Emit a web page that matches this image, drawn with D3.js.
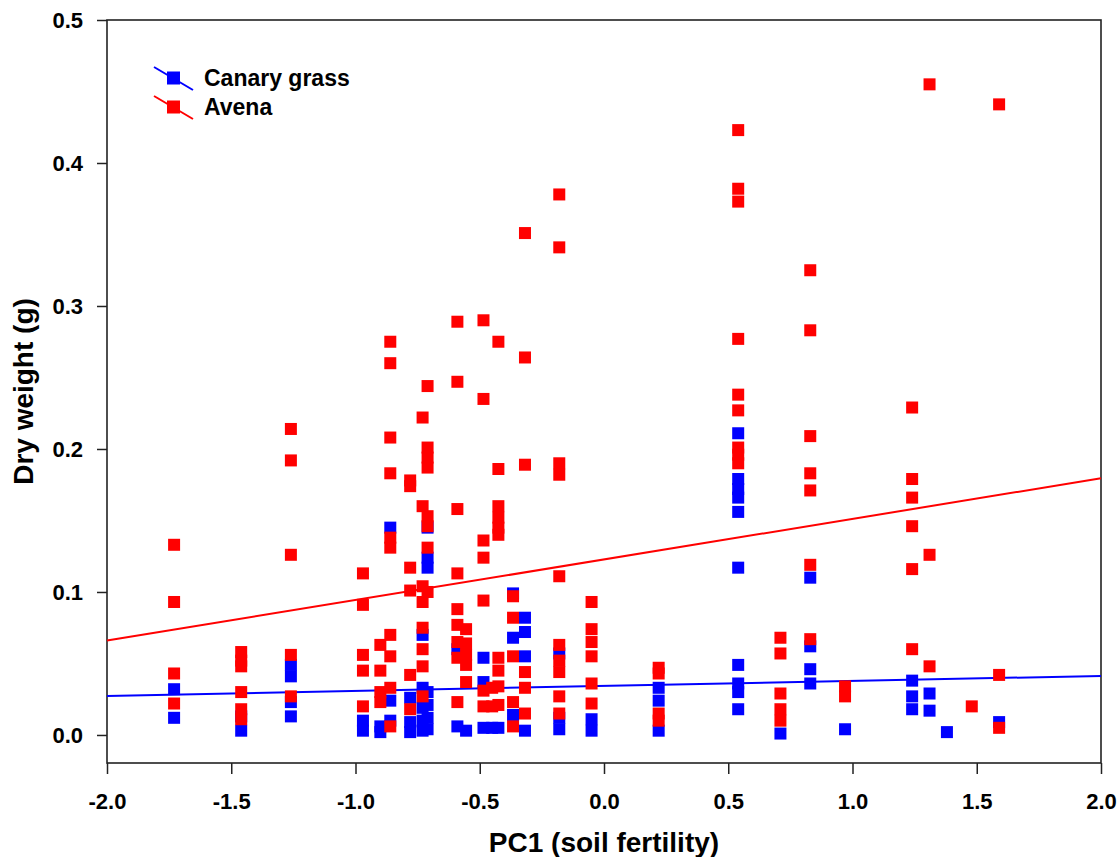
<!DOCTYPE html>
<html>
<head>
<meta charset="utf-8">
<script src="https://cdn.jsdelivr.net/npm/d3@7"></script>
<style>
  body { margin: 0; background: #fff; }
  svg text { font-family: "Liberation Sans", Arial, sans-serif; font-weight: bold; fill: #000; }
</style>
</head>
<body>
<div id="chart"></div>
<script>
// Canary grass dry weight (g) vs PC1 as [pc1, weight]
const canary = [
    [-1.73, 0.032], [-1.73, 0.012],
    [-1.46, 0.013], [-1.46, 0.003],
    [-1.26, 0.049], [-1.26, 0.041], [-1.26, 0.023], [-1.26, 0.013],
    [-0.97, 0.010], [-0.97, 0.003],
    [-0.90, 0.006], [-0.90, 0.002],
    [-0.86, 0.145], [-0.86, 0.024], [-0.86, 0.010],
    [-0.78, 0.026], [-0.78, 0.009], [-0.78, 0.002],
    [-0.73, 0.070], [-0.73, 0.033], [-0.73, 0.019], [-0.73, 0.010], [-0.73, 0.003],
    [-0.71, 0.145], [-0.71, 0.124], [-0.71, 0.117], [-0.71, 0.030], [-0.71, 0.021], [-0.71, 0.012], [-0.71, 0.004],
    [-0.59, 0.060], [-0.59, 0.006],
    [-0.555, 0.003],
    [-0.485, 0.054], [-0.485, 0.037], [-0.485, 0.005],
    [-0.45, 0.005], [-0.425, 0.005],
    [-0.366, 0.099], [-0.366, 0.068], [-0.366, 0.014],
    [-0.318, 0.082], [-0.318, 0.072], [-0.318, 0.055], [-0.318, 0.003],
    [-0.18, 0.057], [-0.18, 0.012], [-0.18, 0.004],
    [-0.05, 0.011], [-0.05, 0.003],
    [0.22, 0.033], [0.22, 0.024], [0.22, 0.003],
    [0.54, 0.211], [0.54, 0.179], [0.54, 0.172], [0.54, 0.166], [0.54, 0.156], [0.54, 0.117],
    [0.54, 0.049], [0.54, 0.036], [0.54, 0.030], [0.54, 0.018],
    [0.71, 0.001],
    [0.83, 0.110], [0.83, 0.062], [0.83, 0.046], [0.83, 0.036],
    [0.97, 0.004],
    [1.24, 0.038], [1.24, 0.027], [1.24, 0.018],
    [1.31, 0.029], [1.31, 0.017],
    [1.38, 0.002],
    [1.59, 0.009]
];

// Avena dry weight (g) vs PC1
const avena = [
    [-1.73, 0.133], [-1.73, 0.093], [-1.73, 0.043], [-1.73, 0.022],
    [-1.46, 0.058], [-1.46, 0.052], [-1.46, 0.048], [-1.46, 0.030], [-1.46, 0.018], [-1.46, 0.011],
    [-1.26, 0.214], [-1.26, 0.192], [-1.26, 0.126], [-1.26, 0.056], [-1.26, 0.027],
    [-0.97, 0.113], [-0.97, 0.091], [-0.97, 0.056], [-0.97, 0.045], [-0.97, 0.020],
    [-0.90, 0.063], [-0.90, 0.045], [-0.90, 0.030], [-0.90, 0.023],
    [-0.86, 0.275], [-0.86, 0.260], [-0.86, 0.208], [-0.86, 0.183], [-0.86, 0.138], [-0.86, 0.131],
    [-0.86, 0.070], [-0.86, 0.055], [-0.86, 0.033], [-0.86, 0.006],
    [-0.78, 0.178], [-0.78, 0.174], [-0.78, 0.117], [-0.78, 0.101], [-0.78, 0.042], [-0.78, 0.018],
    [-0.73, 0.222], [-0.73, 0.160], [-0.73, 0.104], [-0.73, 0.093], [-0.73, 0.075], [-0.73, 0.060],
    [-0.73, 0.048], [-0.73, 0.027],
    [-0.71, 0.244], [-0.71, 0.201], [-0.71, 0.194], [-0.71, 0.187], [-0.71, 0.153], [-0.71, 0.146],
    [-0.71, 0.131], [-0.71, 0.100],
    [-0.59, 0.289], [-0.59, 0.247], [-0.59, 0.158], [-0.59, 0.113], [-0.59, 0.088], [-0.59, 0.077],
    [-0.59, 0.065], [-0.59, 0.054], [-0.59, 0.023],
    [-0.555, 0.074], [-0.555, 0.064], [-0.555, 0.056], [-0.555, 0.049], [-0.555, 0.037],
    [-0.485, 0.290], [-0.485, 0.235], [-0.485, 0.136], [-0.485, 0.124], [-0.485, 0.094],
    [-0.485, 0.031], [-0.485, 0.020],
    [-0.45, 0.033], [-0.45, 0.020],
    [-0.425, 0.275], [-0.425, 0.186], [-0.425, 0.160], [-0.425, 0.152], [-0.425, 0.145], [-0.425, 0.140],
    [-0.425, 0.054], [-0.425, 0.045], [-0.425, 0.034], [-0.425, 0.021],
    [-0.366, 0.097], [-0.366, 0.082], [-0.366, 0.055], [-0.366, 0.023], [-0.366, 0.006],
    [-0.318, 0.351], [-0.318, 0.264], [-0.318, 0.189], [-0.318, 0.044], [-0.318, 0.033], [-0.318, 0.015],
    [-0.18, 0.378], [-0.18, 0.341], [-0.18, 0.190], [-0.18, 0.182], [-0.18, 0.111], [-0.18, 0.063],
    [-0.18, 0.052], [-0.18, 0.044], [-0.18, 0.027], [-0.18, 0.015],
    [-0.05, 0.093], [-0.05, 0.074], [-0.05, 0.065], [-0.05, 0.055], [-0.05, 0.036], [-0.05, 0.022],
    [0.22, 0.047], [0.22, 0.043], [0.22, 0.015], [0.22, 0.010],
    [0.54, 0.423], [0.54, 0.382], [0.54, 0.373], [0.54, 0.277], [0.54, 0.238], [0.54, 0.227],
    [0.54, 0.201], [0.54, 0.196], [0.54, 0.190],
    [0.71, 0.068], [0.71, 0.057], [0.71, 0.029], [0.71, 0.018], [0.71, 0.010],
    [0.83, 0.325], [0.83, 0.283], [0.83, 0.209], [0.83, 0.183], [0.83, 0.171], [0.83, 0.119], [0.83, 0.067],
    [0.97, 0.034], [0.97, 0.027],
    [1.24, 0.229], [1.24, 0.179], [1.24, 0.166], [1.24, 0.146], [1.24, 0.116], [1.24, 0.060],
    [1.31, 0.455], [1.31, 0.126], [1.31, 0.048],
    [1.48, 0.020],
    [1.59, 0.441], [1.59, 0.042], [1.59, 0.005]
];

// Fitted regression lines (end points at the axis limits)
const fitX = [-2, 2];
const canaryFit = [0.0273, 0.0413];
const avenaFit = [0.066, 0.1795];

const xTicks = [-2.0, -1.5, -1.0, -0.5, 0.0, 0.5, 1.0, 1.5, 2.0];
const yTicks = [0.0, 0.1, 0.2, 0.3, 0.4, 0.5];

const series = [
    { name: 'Canary grass', color: '#0000ff', points: canary, fit: canaryFit },
    { name: 'Avena', color: '#ff0000', points: avena, fit: avenaFit }
];

const W = 1118, H = 857;
const margin = { top: 20, right: 17, bottom: 94, left: 107 };
const width = W - margin.left - margin.right;
const height = H - margin.top - margin.bottom;
const ms = 12; // marker size

const svg = d3.select('#chart').append('svg')
    .attr('width', W)
    .attr('height', H);

const g = svg.append('g').attr('transform', `translate(${margin.left},${margin.top})`);

const x = d3.scaleLinear().domain([-2, 2]).range([0, width]);
const y = d3.scaleLinear().domain([-0.0196, 0.5]).range([height, 0]);

// axes
const xAxis = g.append('g')
    .attr('transform', `translate(0,${height})`)
    .call(d3.axisBottom(x).tickValues(xTicks).tickSize(11).tickPadding(19).tickFormat(d => d.toFixed(1)));
const yAxis = g.append('g')
    .call(d3.axisLeft(y).tickValues(yTicks).tickSize(10).tickPadding(14).tickFormat(d => d.toFixed(1)));

[xAxis, yAxis].forEach(a => {
    a.select('.domain').remove();
    a.selectAll('line').attr('stroke', '#222').attr('stroke-width', 1.5);
    a.selectAll('text').style('font-size', '22px');
});

// frame
g.append('rect')
    .attr('width', width)
    .attr('height', height)
    .attr('fill', 'none')
    .attr('stroke', '#222')
    .attr('stroke-width', 1.6);

// regression lines + points, canary first so avena sits on top
const line = d3.line().x(d => x(d[0])).y(d => y(d[1]));
const plot = g.append('g');

series.forEach(s => {
    plot.append('path')
        .datum(fitX.map((v, i) => [v, s.fit[i]]))
        .attr('d', line)
        .attr('fill', 'none')
        .attr('stroke', s.color)
        .attr('stroke-width', 2);
});

series.forEach(s => {
    plot.append('g').selectAll('rect')
        .data(s.points)
        .join('rect')
        .attr('x', d => x(d[0]) - ms / 2)
        .attr('y', d => y(d[1]) - ms / 2)
        .attr('width', ms)
        .attr('height', ms)
        .attr('fill', s.color);
});

// legend
const legend = g.append('g').attr('transform', 'translate(47,58)');
series.forEach((s, i) => {
    const row = legend.append('g').attr('transform', `translate(0,${i * 29})`);
    row.append('line')
        .attr('x1', 0).attr('y1', -11)
        .attr('x2', 39).attr('y2', 12)
        .attr('stroke', s.color)
        .attr('stroke-width', 2);
    row.append('rect')
        .attr('x', 19.5 - 6.5).attr('y', -6.5)
        .attr('width', 13).attr('height', 13)
        .attr('fill', s.color);
    row.append('text')
        .attr('x', 50)
        .attr('y', 8)
        .style('font-size', '23px')
        .text(s.name);
});

// axis titles
svg.append('text')
    .attr('x', margin.left + width / 2)
    .attr('y', 852)
    .attr('text-anchor', 'middle')
    .style('font-size', '28px')
    .text('PC1 (soil fertility)');

svg.append('text')
    .attr('transform', `translate(33,${margin.top + height / 2}) rotate(-90)`)
    .attr('text-anchor', 'middle')
    .style('font-size', '28px')
    .text('Dry weight (g)');
</script>
</body>
</html>
